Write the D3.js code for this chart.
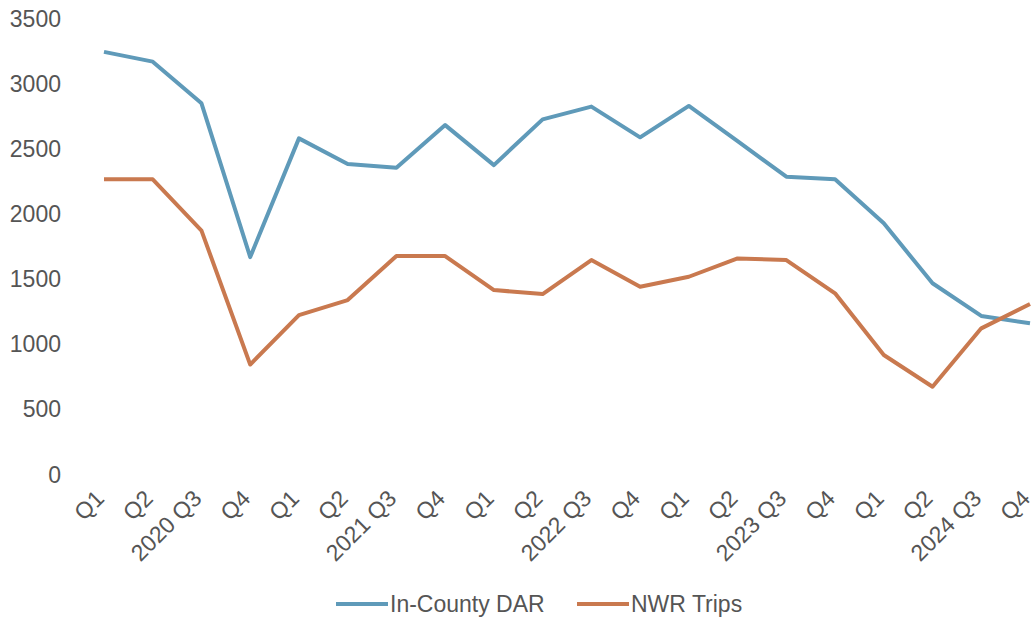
<!DOCTYPE html>
<html>
<head>
<meta charset="utf-8">
<script src="https://cdn.jsdelivr.net/npm/d3@7"></script>
<style>
  html, body { margin: 0; padding: 0; background: #fff; }
  svg { display: block; }
  text { font-family: "Liberation Sans", Arial, sans-serif; fill: #555555; }
</style>
</head>
<body>
<svg id="chart" width="1034" height="622"></svg>
<script>
// Quarterly trip counts, 2020 Q1 – 2024 Q4
const quarters = [
  "2020 Q1","2020 Q2","2020 Q3","2020 Q4",
  "2021 Q1","2021 Q2","2021 Q3","2021 Q4",
  "2022 Q1","2022 Q2","2022 Q3","2022 Q4",
  "2023 Q1","2023 Q2","2023 Q3","2023 Q4",
  "2024 Q1","2024 Q2","2024 Q3","2024 Q4"
];
// Only Q3 ticks carry the year
const tickLabels = [
  "Q1","Q2","2020 Q3","Q4",
  "Q1","Q2","2021 Q3","Q4",
  "Q1","Q2","2022 Q3","Q4",
  "Q1","Q2","2023 Q3","Q4",
  "Q1","Q2","2024 Q3","Q4"
];
const inCountyDAR = [3240, 3165, 2845, 1665, 2576, 2379, 2351, 2678, 2371, 2722,
                     2820, 2584, 2825, 2555, 2282, 2262, 1924, 1464, 1213, 1157];
const nwrTrips    = [2262, 2262, 1868, 840, 1220, 1335, 1673, 1673, 1412, 1381,
                     1642, 1437, 1514, 1655, 1642, 1387, 913, 670, 1118, 1305];
const yTicks = [0, 500, 1000, 1500, 2000, 2500, 3000, 3500];
const seriesNames = ["In-County DAR", "NWR Trips"];
const seriesColors = ["#5f9ab9", "#c9794f"];

const svg = d3.select("#chart");
const fontSize = "23px";

const x = d3.scalePoint().domain(quarters).range([104, 1030]);
const y = d3.scaleLinear().domain([0, 3500]).range([474, 18]);

// Y axis: labels only
const yAxis = svg.append("g")
  .attr("transform", "translate(61,0)")
  .call(d3.axisLeft(y).tickValues(yTicks).tickFormat(d3.format("d")).tickSize(0).tickPadding(0));
yAxis.select(".domain").remove();
yAxis.selectAll("text")
  .style("font-size", fontSize)
  .attr("fill", "#555555")
  .attr("dy", "0.35em");

// X axis: rotated quarter labels
const xAxis = svg.append("g")
  .attr("transform", "translate(0,482)")
  .call(d3.axisBottom(x).tickSize(0).tickFormat((d, i) => tickLabels[i]));
xAxis.select(".domain").remove();
xAxis.selectAll("text")
  .style("font-size", fontSize)
  .attr("fill", "#555555")
  .attr("text-anchor", "end")
  .attr("y", 0)
  .attr("dy", "0")
  .attr("transform", "translate(1,18) rotate(-45)");

// Series lines
const line = d3.line().x((d, i) => x(quarters[i])).y(d => y(d));
[inCountyDAR, nwrTrips].forEach((vals, k) => {
  svg.append("path")
    .datum(vals)
    .attr("fill", "none")
    .attr("stroke", seriesColors[k])
    .attr("stroke-width", 4)
    .attr("stroke-linejoin", "round")
    .attr("d", line);
});

// Legend
const legendItems = [{ x: 336 }, { x: 577 }];
legendItems.forEach((it, k) => {
  const g = svg.append("g").attr("transform", `translate(${it.x},604)`);
  g.append("line")
    .attr("x1", 0).attr("x2", 52)
    .attr("y1", 0).attr("y2", 0)
    .attr("stroke", seriesColors[k])
    .attr("stroke-width", 4);
  g.append("text")
    .attr("x", 54).attr("y", 0).attr("dy", "0.35em")
    .style("font-size", fontSize)
    .text(seriesNames[k]);
});
</script>
</body>
</html>
